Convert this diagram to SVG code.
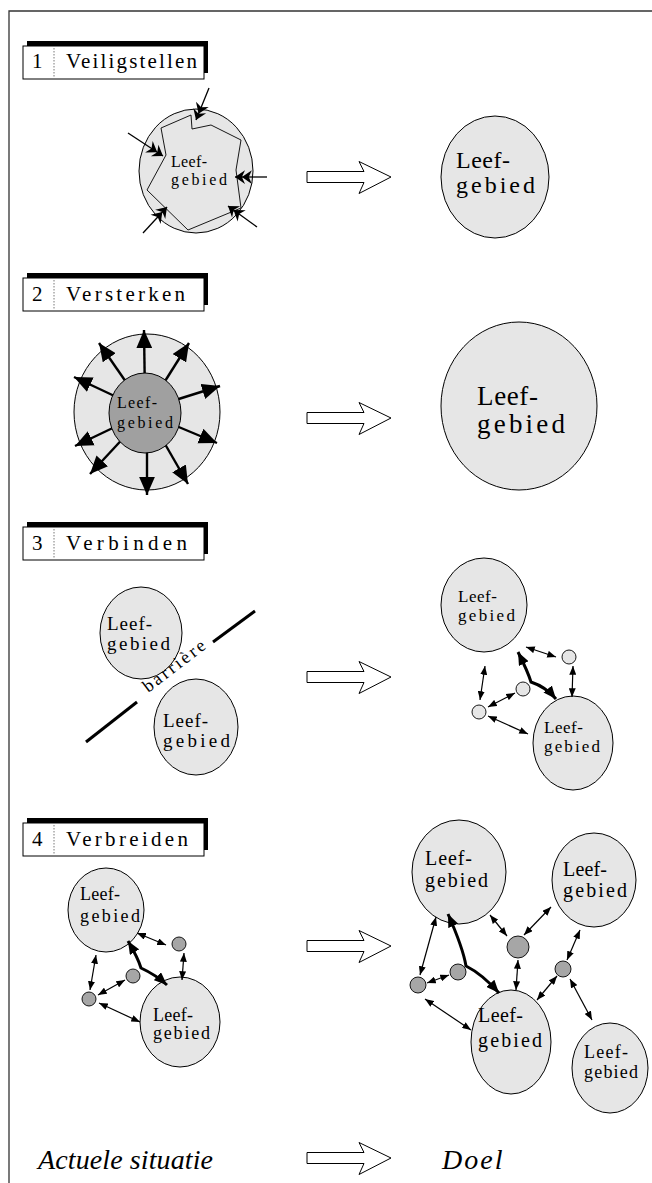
<svg xmlns="http://www.w3.org/2000/svg" xmlns:xlink="http://www.w3.org/1999/xlink" width="652" height="1183" viewBox="0 0 652 1183">
<style>
.frame{stroke:#333;stroke-width:1.3;fill:none}
.tbox{fill:#fff;stroke:#000;stroke-width:1}
.tdiv{stroke:#555;stroke-width:0.8;stroke-dasharray:1.5 1.5}
.ttxt{font-family:"Liberation Serif",serif;font-size:21px;fill:#000}
.lg{fill:#e6e6e6;stroke:#000;stroke-width:1}
.dk{fill:#a0a0a0;stroke:#000;stroke-width:1}
.sm{fill:#e6e6e6;stroke:#000;stroke-width:0.9}
.smd{fill:#a6a6a6;stroke:#000;stroke-width:0.9}
.lbl{font-family:"Liberation Serif",serif;fill:#000}
.thin{stroke:#000;stroke-width:1.2;fill:none;marker-start:url(#h);marker-end:url(#h)}
.thick{stroke:#000;stroke-width:3;fill:none;marker-start:url(#H);marker-end:url(#H)}
.big{stroke:#000;stroke-width:2.4;fill:none;marker-end:url(#B)}
.chev{stroke:#000;stroke-width:1.3;fill:none;marker-end:url(#C)}
.blk{fill:#fff;stroke:#000;stroke-width:1}
.bot{font-family:"Liberation Serif",serif;font-style:italic;font-size:28px;fill:#000}
</style>
<defs>
<marker id="h" viewBox="0 0 10 8" refX="10" refY="4" markerWidth="9" markerHeight="7" markerUnits="userSpaceOnUse" orient="auto-start-reverse"><path d="M0,0 L10,4 L0,8 Z"/></marker>
<marker id="H" viewBox="0 0 12 10" refX="12" refY="5" markerWidth="13" markerHeight="11" markerUnits="userSpaceOnUse" orient="auto-start-reverse"><path d="M0,0 L12,5 L0,10 Z"/></marker>
<marker id="B" viewBox="0 0 16 14" refX="16" refY="7" markerWidth="18" markerHeight="16" markerUnits="userSpaceOnUse" orient="auto"><path d="M0,0 L16,7 L0,14 Z"/></marker>
<marker id="C" viewBox="0 0 12 10" refX="12" refY="5" markerWidth="15" markerHeight="12.5" markerUnits="userSpaceOnUse" orient="auto" overflow="visible"><path d="M12,5 L4,-0.5 L6.5,5 L4,10.5 Z M6.5,5 L-1.5,-0.5 L1,5 L-1.5,10.5 Z"/></marker>
<g id="tbase">
<rect x="27" y="-5" width="181" height="32" fill="#000"/>
<rect class="tbox" x="23" y="0" width="181" height="33"/>
<line class="tdiv" x1="54" y1="2" x2="54" y2="31"/>
</g>
<path id="blkarrow" class="blk" d="M0,-5.5 H57 L52,-15.5 L84,0 L52,16.5 L57,5.5 H0 Z"/>
</defs>

<g id="frame">
<polyline class="frame" points="9,1183 9,11 652,11"/>
</g>

<!-- Section 1 -->
<g id="title1">
<use xlink:href="#tbase" transform="translate(0,46)"/>
<text class="ttxt" x="32" y="68">1</text>
<text class="ttxt" x="66" y="68" textLength="131" lengthAdjust="spacing">Veiligstellen</text>
</g>
<g id="s1-current">
<ellipse class="lg" cx="196" cy="171" rx="57" ry="62"/>
<polygon points="161,128 191,115 192,129 211,125 241,140 236,170 241,208 188,230 147,190 166,155" fill="#e6e6e6" stroke="#000" stroke-width="0.9"/>
<text class="lbl" font-size="16" x="171" y="167" textLength="36" lengthAdjust="spacing">Leef-</text>
<text class="lbl" font-size="16" x="171" y="185" textLength="56" lengthAdjust="spacing">gebied</text>
</g>
<g id="s1-goal">
<ellipse class="lg" cx="495" cy="177" rx="54" ry="61"/>
<text class="lbl" font-size="24" x="456" y="168" textLength="54" lengthAdjust="spacing">Leef-</text>
<text class="lbl" font-size="24" x="456" y="193" textLength="79" lengthAdjust="spacing">gebied</text>
</g>

<!-- Section 2 -->
<g id="title2">
<use xlink:href="#tbase" transform="translate(0,278)"/>
<text class="ttxt" x="32" y="301">2</text>
<text class="ttxt" x="66" y="301" textLength="119" lengthAdjust="spacing">Versterken</text>
</g>
<g id="s2-current">
<ellipse class="lg" cx="147" cy="412" rx="73" ry="78"/>
</g>

<!-- Section 3 -->
<g id="title3">
<use xlink:href="#tbase" transform="translate(0,527)"/>
<text class="ttxt" x="32" y="550">3</text>
<text class="ttxt" x="66" y="550" textLength="121" lengthAdjust="spacing">Verbinden</text>
</g>
<g id="s3-habitat-a">
<ellipse class="lg" cx="141" cy="633" rx="41" ry="46"/>
<text class="lbl" font-size="19" x="107" y="630" textLength="45" lengthAdjust="spacing">Leef-</text>
<text class="lbl" font-size="19" x="107" y="650" textLength="63" lengthAdjust="spacing">gebied</text>
</g>
<g id="s3-habitat-b">
<ellipse class="lg" cx="196" cy="727" rx="42" ry="48"/>
<text class="lbl" font-size="19" x="163" y="727" textLength="45" lengthAdjust="spacing">Leef-</text>
<text class="lbl" font-size="19" x="163" y="747" textLength="67" lengthAdjust="spacing">gebied</text>
</g>
<g id="s3-barrier">
<line x1="86" y1="742" x2="137" y2="702" stroke="#000" stroke-width="3"/>
<line x1="213" y1="642" x2="255" y2="611" stroke="#000" stroke-width="3"/>
<text class="lbl" font-size="18" x="177.5" y="670.5" text-anchor="middle" transform="rotate(-37.6 177.5 670.5)" textLength="74" lengthAdjust="spacing">barrière</text>
</g>
<g id="s3-goal-a">
<ellipse class="lg" cx="484" cy="605" rx="43" ry="47"/>
<text class="lbl" font-size="17" x="458" y="602" textLength="39" lengthAdjust="spacing">Leef-</text>
<text class="lbl" font-size="17" x="458" y="621" textLength="57" lengthAdjust="spacing">gebied</text>
</g>
<g id="s3-goal-b">
<ellipse class="lg" cx="573" cy="743" rx="40" ry="47"/>
<text class="lbl" font-size="17" x="544" y="733" textLength="39" lengthAdjust="spacing">Leef-</text>
<text class="lbl" font-size="17" x="544" y="752" textLength="56" lengthAdjust="spacing">gebied</text>
</g>
<g id="s3-stepping-stones">
<circle class="sm" cx="569" cy="657" r="7"/>
<circle class="sm" cx="523" cy="689" r="7"/>
<circle class="sm" cx="479" cy="712" r="7"/>
</g>

<!-- Section 4 -->
<g id="title4">
<use xlink:href="#tbase" transform="translate(0,823)"/>
<text class="ttxt" x="32" y="846">4</text>
<text class="ttxt" x="66" y="846" textLength="122" lengthAdjust="spacing">Verbreiden</text>
</g>
<g id="s4-habitat-a">
<ellipse class="lg" cx="106" cy="910" rx="38" ry="42"/>
<text class="lbl" font-size="18" x="80" y="900" textLength="40" lengthAdjust="spacing">Leef-</text>
<text class="lbl" font-size="18" x="80" y="922" textLength="60" lengthAdjust="spacing">gebied</text>
</g>
<g id="s4-habitat-b">
<ellipse class="lg" cx="180" cy="1022" rx="40" ry="45"/>
<text class="lbl" font-size="18" x="153" y="1021" textLength="40" lengthAdjust="spacing">Leef-</text>
<text class="lbl" font-size="18" x="153" y="1039" textLength="57" lengthAdjust="spacing">gebied</text>
</g>
<g id="s4-stones">
<circle class="smd" cx="179" cy="944" r="7"/>
<circle class="smd" cx="133" cy="976" r="7"/>
<circle class="smd" cx="89" cy="999" r="7"/>
</g>
<g id="s4-goal-a">
<ellipse class="lg" cx="459" cy="872" rx="47" ry="52"/>
<text class="lbl" font-size="20" x="425" y="865" textLength="47" lengthAdjust="spacing">Leef-</text>
<text class="lbl" font-size="20" x="425" y="887" textLength="63" lengthAdjust="spacing">gebied</text>
</g>
<g id="s4-goal-b">
<ellipse class="lg" cx="594" cy="880" rx="42" ry="47"/>
<text class="lbl" font-size="20" x="563" y="876" textLength="44" lengthAdjust="spacing">Leef-</text>
<text class="lbl" font-size="20" x="563" y="897" textLength="64" lengthAdjust="spacing">gebied</text>
</g>
<g id="s4-goal-c">
<ellipse class="lg" cx="511" cy="1042" rx="40" ry="52"/>
<text class="lbl" font-size="20" x="478" y="1022" textLength="45" lengthAdjust="spacing">Leef-</text>
<text class="lbl" font-size="20" x="478" y="1047" textLength="64" lengthAdjust="spacing">gebied</text>
</g>
<g id="s4-goal-d">
<ellipse class="lg" cx="610" cy="1068" rx="38" ry="45"/>
<text class="lbl" font-size="18" x="584" y="1058" textLength="44" lengthAdjust="spacing">Leef-</text>
<text class="lbl" font-size="18" x="584" y="1078" textLength="54" lengthAdjust="spacing">gebied</text>
</g>
<g id="s4-goal-stones">
<circle class="smd" cx="518" cy="947" r="11"/>
<circle class="smd" cx="458" cy="972" r="8"/>
<circle class="smd" cx="418" cy="985" r="8"/>
<circle class="smd" cx="563" cy="969" r="8"/>
</g>

<!-- Connectors -->
<g id="connectors">
<line class="chev" x1="209" y1="88" x2="196" y2="120"/>
<line class="chev" x1="128" y1="133" x2="163" y2="156"/>
<line class="chev" x1="267" y1="177" x2="235" y2="177"/>
<line class="chev" x1="143" y1="233" x2="167" y2="207"/>
<line class="chev" x1="257" y1="227" x2="228" y2="206"/>
<line class="big" x1="145" y1="400" x2="144" y2="330"/>
<line class="big" x1="150" y1="405" x2="189" y2="343"/>
<line class="big" x1="150" y1="408" x2="220" y2="386"/>
<line class="big" x1="150" y1="415" x2="217" y2="443"/>
<line class="big" x1="150" y1="418" x2="188" y2="484"/>
<line class="big" x1="147" y1="420" x2="147" y2="495"/>
<line class="big" x1="142" y1="418" x2="90" y2="474"/>
<line class="big" x1="140" y1="415" x2="75" y2="446"/>
<line class="big" x1="140" y1="408" x2="74" y2="377"/>
<line class="big" x1="142" y1="405" x2="99" y2="343"/>
<line class="thin" x1="526" y1="647" x2="556" y2="657"/>
<line class="thin" x1="573" y1="666" x2="572" y2="697"/>
<line class="thin" x1="485" y1="666" x2="480" y2="700"/>
<line class="thin" x1="488" y1="707" x2="515" y2="693"/>
<line class="thin" x1="488" y1="716" x2="528" y2="734"/>
<path class="thick" d="M518,652 Q528,672 531,682 Q546,687 556,699"/>
<line class="thin" x1="137" y1="933" x2="166" y2="945"/>
<line class="thin" x1="184" y1="953" x2="182" y2="980"/>
<line class="thin" x1="96" y1="955" x2="90" y2="990"/>
<line class="thin" x1="98" y1="995" x2="125" y2="980"/>
<line class="thin" x1="99" y1="1003" x2="140" y2="1022"/>
<path class="thick" d="M128,941 Q138,958 141,968 Q156,975 167,985"/>
<line class="thin" x1="436" y1="917" x2="420" y2="975"/>
<line class="thin" x1="427" y1="983" x2="449" y2="975"/>
<line class="thin" x1="425" y1="999" x2="471" y2="1030"/>
<path class="thick" d="M448,914 Q463,948 466,966 Q482,974 499,993"/>
<line class="thin" x1="490" y1="915" x2="507" y2="936"/>
<line class="thin" x1="524" y1="935" x2="551" y2="907"/>
<line class="thin" x1="518" y1="960" x2="516" y2="990"/>
<line class="thin" x1="580" y1="930" x2="567" y2="960"/>
<line class="thin" x1="557" y1="976" x2="537" y2="1000"/>
<line class="thin" x1="570" y1="979" x2="592" y2="1020"/>
</g>

<g id="s2-core">
<ellipse class="dk" cx="145" cy="413" rx="36" ry="40"/>
<text class="lbl" font-size="16" x="117" y="408" textLength="40" lengthAdjust="spacing">Leef-</text>
<text class="lbl" font-size="16" x="117" y="428" textLength="56" lengthAdjust="spacing">gebied</text>
</g>
<g id="s2-goal">
<ellipse class="lg" cx="519" cy="406" rx="78" ry="84"/>
<text class="lbl" font-size="27" x="477" y="405" textLength="61" lengthAdjust="spacing">Leef-</text>
<text class="lbl" font-size="27" x="477" y="433" textLength="88" lengthAdjust="spacing">gebied</text>
</g>

<g id="transition-arrows">
<use xlink:href="#blkarrow" transform="translate(307,177)"/>
<use xlink:href="#blkarrow" transform="translate(307,418)"/>
<use xlink:href="#blkarrow" transform="translate(307,677)"/>
<use xlink:href="#blkarrow" transform="translate(307,946)"/>
<use xlink:href="#blkarrow" transform="translate(307,1158)"/>
</g>

<g id="footer">
<text class="bot" x="38" y="1169" textLength="175" lengthAdjust="spacing">Actuele situatie</text>
<text class="bot" x="442" y="1169" font-size="30" letter-spacing="2">Doel</text>
</g>
</svg>
